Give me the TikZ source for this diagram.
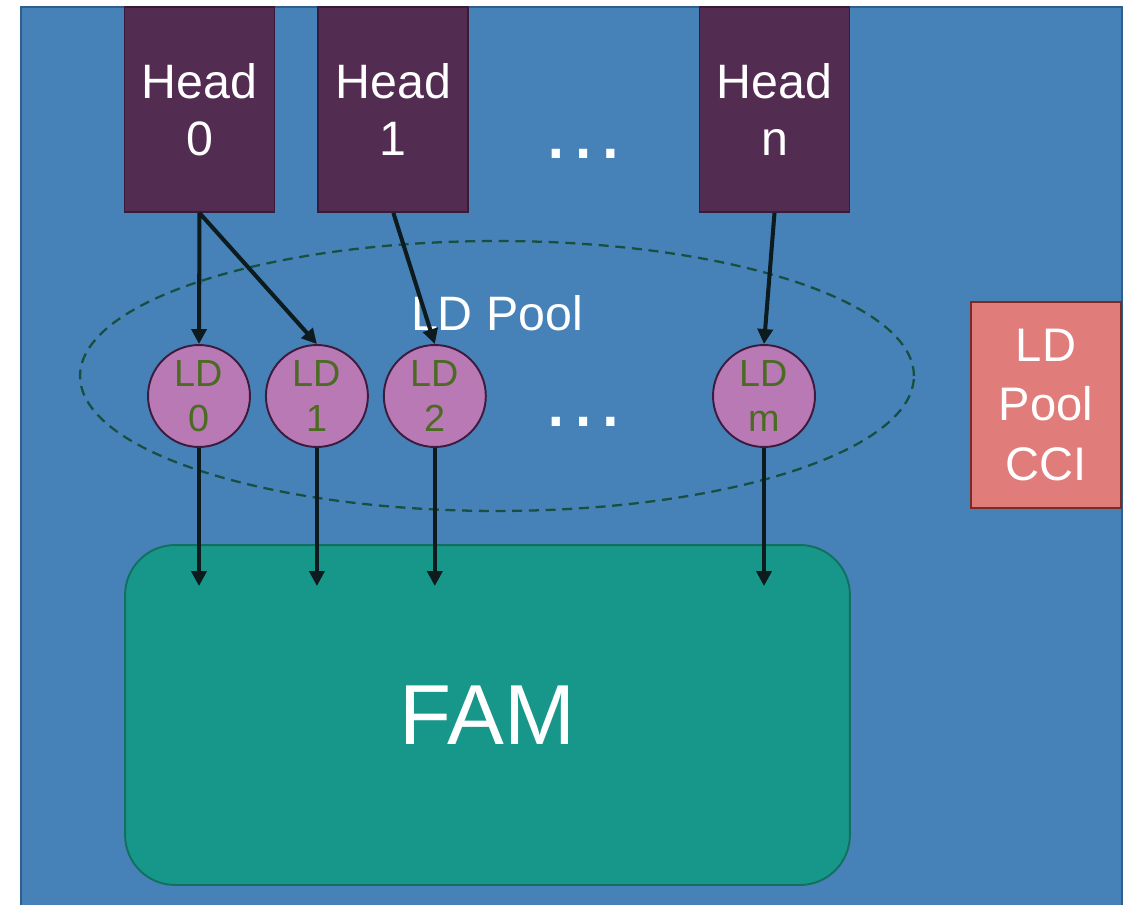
\documentclass[tikz,border=0pt]{standalone}
\usepackage{fontspec}
\setmainfont{Liberation Sans}
\usepackage{tikz}
\usetikzlibrary{
  arrows.meta,
  shapes.geometric,
  positioning
}
\definecolor{fmBack}{HTML}{4682B8}
\definecolor{fmBackEdge}{HTML}{2F5E8C}
\definecolor{fmHead}{HTML}{532C52}
\definecolor{fmHeadEdge}{HTML}{3A1A3A}
\definecolor{fmLD}{HTML}{B879B4}
\definecolor{fmLDEdge}{HTML}{3D1B3D}
\definecolor{fmLDText}{HTML}{4C6B22}
\definecolor{fmCCI}{HTML}{E07C7A}
\definecolor{fmCCIEdge}{HTML}{7D2A20}
\definecolor{fmFAM}{HTML}{17968A}
\definecolor{fmFAMEdge}{HTML}{11705F}
\definecolor{fmPool}{HTML}{174F40}
\definecolor{fmArrow}{HTML}{0D1B1E}
\tikzset{
  fmnode/.style={
    draw, inner sep=0pt, align=center, text=white, line width=1.1pt
  },
  headbox/.style={fmnode, fill=fmHead, draw=fmHeadEdge,
    minimum width=3cm, minimum height=4.1cm, font=\fontsize{27.5}{32.3}\selectfont},
  ldnode/.style={circle, draw=fmLDEdge, fill=fmLD, line width=1.1pt,
    minimum size=2.04cm, inner sep=0pt, align=center, text=fmLDText,
    font=\fontsize{21.5}{25.5}\selectfont},
  ccibox/.style={fmnode, fill=fmCCI, draw=fmCCIEdge,
    minimum width=3cm, minimum height=4.12cm, font=\fontsize{26.8}{34}\selectfont},
  fambox/.style={fmnode, fill=fmFAM, draw=fmFAMEdge, rounded corners=1cm,
    minimum width=14.5cm, minimum height=6.8cm, font=\fontsize{48.5}{57}\selectfont},
  poolring/.style={ellipse, draw=fmPool, line width=1.3pt,
    dash pattern=on 5.7pt off 3.8pt, minimum width=16.68cm, minimum height=5.4cm},
  tag/.style={text=white, inner sep=0pt, font=\fontsize{27.5}{32.3}\selectfont},
  gap/.style={text=white, inner sep=0pt, font=\fontsize{49}{55}\selectfont},
  link/.style={-{Triangle[length=0.3cm,width=0.3cm]}, line width=2.3pt, fmArrow}
}

\begin{document}
\begin{tikzpicture}[x=0.02cm, y=-0.02cm]
  \useasboundingbox[fill=white] (0,0) rectangle (1133,905);
  % board
  \fill[fmBack] (21,7) rectangle (1122,905);
  \draw[fmBackEdge, line width=1pt] (21,905) -- (21,7) -- (1122,7) -- (1122,905);

  % heads
  \node[headbox] (head0) at (199.5,109.5) {Head\\0};
  \node[headbox, right=0.84cm of head0] (head1) {Head\\1};
  \node[headbox] (headn) at (774.5,109.5) {Head\\n};
  \node[gap] (hdots) at (584,154) {…};

  % LD pool
  \node[poolring] (pool) at (497,376) {};
  \node[tag] (poollabel) at (497,313) {LD Pool};
  \node[ldnode] (ld0) at (199,396) {LD\\0};
  \node[ldnode, right=0.28cm of ld0] (ld1) {LD\\1};
  \node[ldnode, right=0.28cm of ld1] (ld2) {LD\\2};
  \node[ldnode] (ldm) at (764,396) {LD\\m};
  \node[gap] (ldots) at (584,422) {…};

  \node[ccibox] (cci) at (1046,405) {LD\\Pool\\CCI};
  \node[fambox] (fam) at (487.5,715) {FAM};

  % head -> LD
  \draw[link] (head0.south) -- (ld0.north);
  \draw[link] (head0.south) -- (ld1.north);
  \draw[link] (head1.south) -- (ld2.north);
  \draw[link] (headn.south) -- (ldm.north);

  % LD -> FAM
  \foreach \ld in {ld0,ld1,ld2,ldm}
    \draw[link] (\ld.south) -- ([yshift=-0.84cm]\ld |- fam.north);
\end{tikzpicture}
\end{document}
